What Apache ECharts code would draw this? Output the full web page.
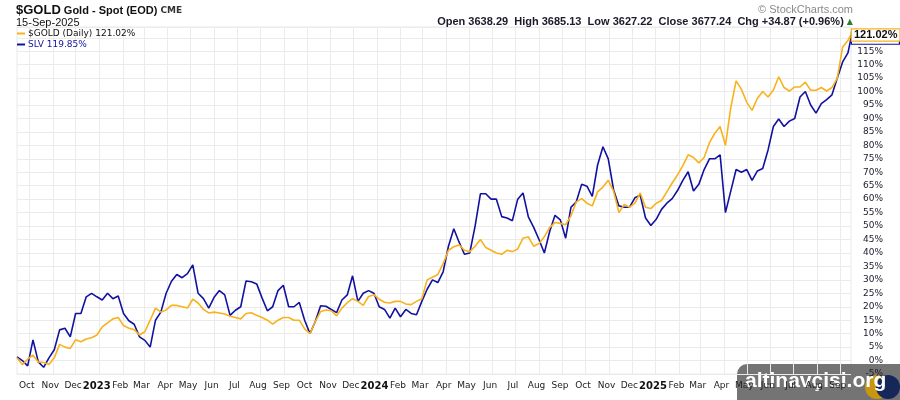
<!DOCTYPE html>
<html>
<head>
<meta charset="utf-8">
<title>$GOLD vs SLV</title>
<script src="https://cdn.jsdelivr.net/npm/echarts@6/dist/echarts.min.js"></script>
<style>
  html, body { margin: 0; padding: 0; background: #fff; }
  #main { width: 900px; height: 400px; }
</style>
</head>
<body>
<div id="main"></div>
<script>
// weekly closes, % change since 15-Sep-2022 (last point = 15-Sep-2025)
var firstDay = '2022-09-15';
var lastDay = '2025-09-15';
var monthNames = ['Jan', 'Feb', 'Mar', 'Apr', 'May', 'Jun', 'Jul', 'Aug', 'Sep', 'Oct', 'Nov', 'Dec'];

var goldPct = [
  1, -1.5, 0.5, 2, -0.5, -0.7, -1.5, 1, 6, 5,
  4.5, 7.7, 7, 8, 8.5, 9.5, 12.5, 14, 15.5, 16,
  13, 12, 11.5, 9.5, 10.7, 15, 19.5, 18, 18.8, 20.5,
  20.5, 20, 19.5, 22.8, 21.4, 19, 17.7, 18, 17.7, 17.3,
  16.5, 16, 15.5, 17.5, 17.8, 16.8, 16, 15, 13.5, 15,
  16, 16, 15, 15, 11.8, 10, 14.5, 18.2, 18.8, 18.5,
  16.6, 19.5, 21.5, 23, 22, 20.5, 23.8, 24.5, 22.8, 21.7,
  21.4, 22, 22, 21, 20.8, 22, 23, 30, 31, 32,
  36, 41, 42.3, 43, 41, 40.5, 42.5, 45, 42, 41,
  40, 39.5, 41, 40.5, 41.5, 45.5, 46, 42.5, 43.5, 46,
  49.5, 51.3, 51, 50.5, 53.8, 59, 60.2, 58.5, 57.5, 62.7,
  64.5, 67, 63, 55, 58, 57, 58.5, 62.3, 57, 56.5,
  58.5, 59.5, 62.7, 66, 69, 72.5, 76.5, 75.5, 73.5, 75.5,
  81, 84.5, 87, 80, 94, 104, 100.8, 96, 93, 97.5,
  100, 98, 100.6, 105.5, 101.5, 100.2, 101.7, 101.7, 103.5, 100.5,
  100.5, 101.5, 100.2, 101.5, 105, 116.6, 119, 121.02
];

var slvPct = [
  1.4, 0, -2, 7.7, -0.5, -2.5, 1, 4, 11.4, 12,
  8.8, 17.5, 17.5, 23.7, 25, 23.7, 22.5, 25, 23, 24,
  17.5, 14.8, 13.5, 8.8, 7.5, 5, 15, 18, 25, 29.5,
  32, 30.8, 32.3, 35.6, 25, 23, 19.5, 23.5, 26, 24.4,
  16.8, 18.7, 20, 29.6, 29.3, 28.5, 23.3, 18.5, 20, 26,
  28, 20, 20, 21.6, 15, 10, 14.5, 20.4, 20.2, 19,
  17.8, 22.5, 24.4, 31.5, 22, 25, 26, 25, 20, 19,
  15.8, 19.5, 16.3, 19, 17.5, 17, 22, 26.5, 30, 29,
  33, 42.5, 49, 44, 39.5, 40, 50, 62, 62, 60,
  60, 53.5, 53, 52, 60, 62.3, 53.4, 49.5, 45, 40,
  48, 54, 52.3, 45.5, 57, 59, 65.5, 64.8, 61, 72.7,
  79.5, 75, 63.5, 57.5, 57, 57, 60.5, 61.5, 53, 50.2,
  52.5, 56.2, 58.5, 60.2, 63.2, 67, 70.2, 63, 65.5, 71,
  75, 75, 76.5, 55, 63, 71, 70, 71, 67, 70.5,
  71.4, 78.3, 87, 89.8, 87, 89, 90, 98, 100, 95,
  92, 95.5, 97, 98.8, 105, 111, 114.4, 119.85
];

var goldColor = '#f7b21c';
var slvColor = '#1212a0';

// one category per calendar day, so month gridlines fall on the 1st
function fmt(d) {
  var m = d.getUTCMonth() + 1, dd = d.getUTCDate();
  return d.getUTCFullYear() + '-' + (m < 10 ? '0' : '') + m + '-' + (dd < 10 ? '0' : '') + dd;
}
var days = [];
var t0 = Date.parse(firstDay + 'T00:00:00Z'), t1 = Date.parse(lastDay + 'T00:00:00Z');
for (var t = t0; t <= t1; t += 86400000) days.push(fmt(new Date(t)));

// weekly sample dates plus the last session
var sampleDays = [];
for (var i = 0; i < days.length - 1; i += 7) sampleDays.push(days[i]);
sampleDays.push(days[days.length - 1]);

function pairs(vals) {
  return vals.map(function (v, k) { return [sampleDays[k], v]; });
}
function isMonthStart(idx, val) { return val.slice(8) === '01'; }

var myChart = echarts.init(document.getElementById('main'));

var hdr = { fontFamily: 'Liberation Sans', fontSize: 11, color: '#1a1a2a' };

var option = {
  animation: false,
  backgroundColor: '#fff',
  textStyle: { fontFamily: 'DejaVu Sans' },
  title: [
    {
      left: 16, top: 4, padding: 0,
      text: '{b|$GOLD}{n| Gold - Spot (EOD) }{c|CME}',
      textStyle: {
        fontSize: 11,
        rich: {
          b: { fontFamily: 'Liberation Sans', fontWeight: 'bold', fontSize: 13, color: '#111' },
          n: { fontFamily: 'Liberation Sans', fontSize: 11, color: '#111' },
          c: { fontFamily: 'DejaVu Sans', fontSize: 9, color: '#333' }
        }
      }
    },
    {
      left: 16, top: 17, padding: 0,
      text: '15-Sep-2025',
      textStyle: { fontFamily: 'Liberation Sans', fontSize: 11, fontWeight: 'normal', color: '#111' }
    },
    {
      right: 47, top: 4, padding: 0,
      text: '\u00a9 StockCharts.com',
      textStyle: { fontFamily: 'Liberation Sans', fontSize: 11, fontWeight: 'normal', color: '#8a8a8a' }
    },
    {
      right: 47, top: 16, padding: 0,
      text: '{l|Open}{v| 3638.29  }{l|High}{v| 3685.13  }{l|Low}{v| 3627.22  }{l|Close}{v| 3677.24  }{l|Chg}{v| +34.87 (+0.96%) }{up|\u25b2}',
      textStyle: {
        fontSize: 11,
        rich: {
          l: { fontFamily: hdr.fontFamily, fontWeight: 'bold', fontSize: 11, color: hdr.color },
          v: { fontFamily: hdr.fontFamily, fontSize: 11, color: hdr.color },
          up: { fontSize: 8, color: '#2e7d32' }
        }
      }
    }
  ],
  legend: {
    left: 17, top: 29, padding: 0,
    orient: 'vertical',
    itemGap: 2,
    itemWidth: 8, itemHeight: 2,
    icon: 'rect',
    selectedMode: false,
    data: [
      { name: '$GOLD (Daily)', textStyle: { color: '#111' } },
      { name: 'SLV', textStyle: { color: slvColor } }
    ],
    formatter: function (name) {
      return name === 'SLV' ? 'SLV 119.85%' : '$GOLD (Daily) 121.02%';
    },
    textStyle: { fontFamily: 'DejaVu Sans', fontSize: 9, padding: [0, 0, 0, -2] }
  },
  grid: {
    left: 17, right: 49, top: 27, bottom: 26,
    show: true, borderColor: '#e8e8e8', borderWidth: 1
  },
  xAxis: {
    type: 'category',
    data: days,
    boundaryGap: false,
    axisLine: { show: false },
    axisTick: { show: false },
    splitLine: { show: true, interval: isMonthStart, lineStyle: { color: '#ebebeb', width: 1 } },
    axisLabel: {
      interval: isMonthStart,
      margin: 7,
      padding: [0, 5, 0, 0],
      fontFamily: 'DejaVu Sans',
      fontSize: 9,
      color: '#222',
      formatter: function (val) {
        var m = parseInt(val.slice(5, 7), 10);
        return m === 1 ? '{y|' + val.slice(0, 4) + '}' : monthNames[m - 1];
      },
      rich: {
        y: { fontFamily: 'DejaVu Sans', fontWeight: 'bold', fontSize: 10, color: '#111' }
      }
    }
  },
  yAxis: {
    type: 'value',
    position: 'right',
    min: -5,
    max: 124,
    interval: 5,
    axisLine: { show: false },
    axisTick: { show: false },
    splitLine: { lineStyle: { color: '#ebebeb', width: 1 } },
    axisLabel: {
      align: 'right',
      margin: 32,
      fontFamily: 'DejaVu Sans',
      fontSize: 9,
      color: '#1a1a2a',
      formatter: function (v) { return v % 5 === 0 ? v + '%' : ''; }
    }
  },
  series: [
    {
      name: 'SLV',
      type: 'line',
      data: pairs(slvPct),
      showSymbol: false,
      lineStyle: { color: slvColor, width: 1.6 },
      itemStyle: { color: slvColor },
      endLabel: {
        show: true,
        distance: 1,
        formatter: function (p) { return p.value[1].toFixed(2) + '%'; },
        fontFamily: 'Liberation Sans', fontWeight: 'bold', fontSize: 11,
        color: '#111', backgroundColor: '#fff',
        borderColor: slvColor, borderWidth: 1.2, padding: [0, 2, 0, 2]
      }
    },
    {
      name: '$GOLD (Daily)',
      type: 'line',
      data: pairs(goldPct),
      showSymbol: false,
      lineStyle: { color: goldColor, width: 1.6 },
      itemStyle: { color: goldColor },
      endLabel: {
        show: true,
        distance: 1,
        formatter: function (p) { return p.value[1].toFixed(2) + '%'; },
        fontFamily: 'Liberation Sans', fontWeight: 'bold', fontSize: 11,
        color: '#111', backgroundColor: '#fff',
        borderColor: goldColor, borderWidth: 1.2, padding: [0, 2, 0, 2]
      }
    }
  ],
  graphic: [
    {
      type: 'group', right: 0, bottom: 0, z: 100,
      children: [
        { type: 'rect', shape: { x: 0, y: 0, width: 163, height: 36, r: [10, 0, 0, 0] },
          style: { fill: 'rgba(85,85,85,0.82)' } },
        { type: 'circle', shape: { cx: 140, cy: 23, r: 12 }, style: { fill: '#c8960f' } },
        { type: 'circle', shape: { cx: 151, cy: 23, r: 12 }, style: { fill: '#16285a' } },
        { type: 'text', x: 8, y: 17,
          style: {
            text: 'altinav\u00e7isi.org', fill: '#fff',
            font: 'bold 21px "Liberation Sans"', verticalAlign: 'middle',
            shadowColor: 'rgba(0,0,0,0.7)', shadowBlur: 2, shadowOffsetX: 1, shadowOffsetY: 1
          } }
      ]
    }
  ]
};

myChart.setOption(option);
</script>
</body>
</html>
